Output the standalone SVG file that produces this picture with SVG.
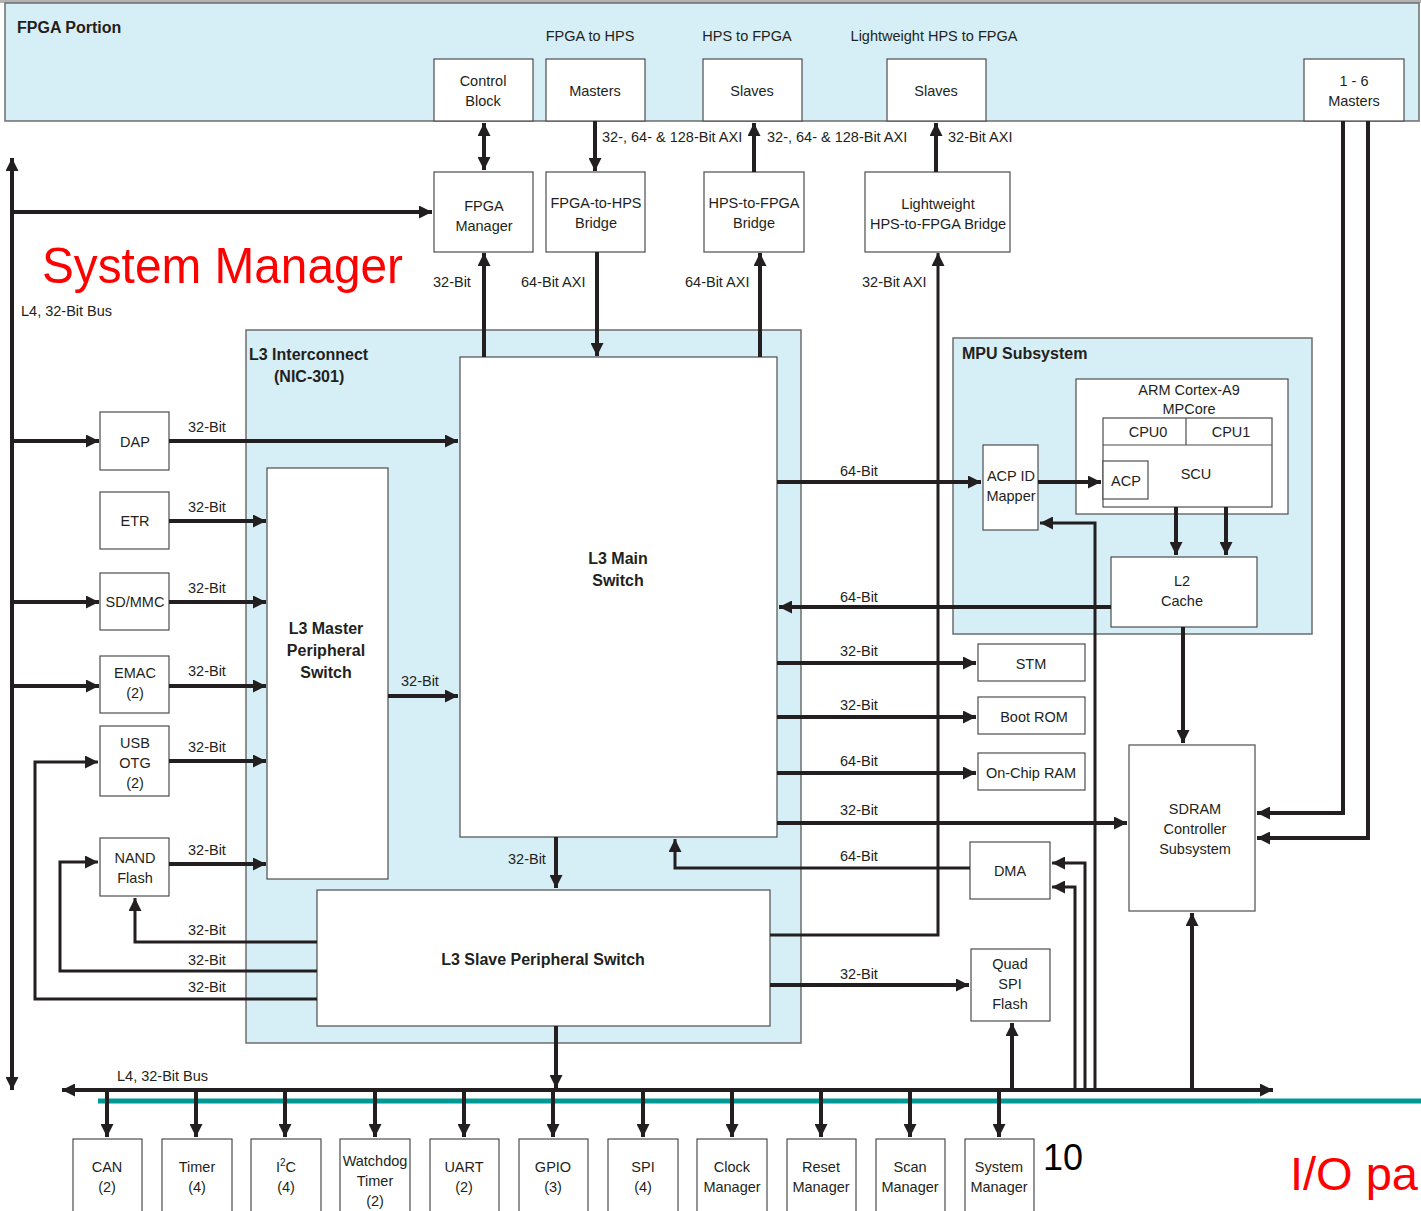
<svg xmlns="http://www.w3.org/2000/svg" width="1421" height="1211" viewBox="0 0 1421 1211">
<style>
text{font-family:"Liberation Sans",Arial,sans-serif;fill:#231f20}
.c{font-size:14.5px;text-anchor:middle}
.l{font-size:14.5px}
.b{font-weight:bold;font-size:16px}
.bc{font-weight:bold;font-size:16px;text-anchor:middle}
.box{fill:#fff;stroke:#4d4d4d;stroke-width:1.2}
.grp{fill:#d6eef5;stroke:#6d6d6d;stroke-width:1.5}
.w{fill:none;stroke:#231f20;stroke-width:4}
.n{fill:none;stroke:#231f20;stroke-width:3}
.a{marker-end:url(#ah)}
.s{marker-start:url(#ah)}
</style>
<defs>
<marker id="ah" viewBox="0 0 10 10" refX="10" refY="5" markerWidth="15" markerHeight="13" markerUnits="userSpaceOnUse" orient="auto-start-reverse"><path d="M0,0 L10,5 L0,10 z" fill="#231f20"/></marker>
</defs>
<rect x="0" y="0" width="1421" height="1211" fill="#fff"/>
<rect x="0" y="0" width="1421" height="3" fill="#b3b3b3"/>

<g id="fpga-portion">
<rect class="grp" x="5" y="3" width="1414" height="118"/>
<text class="b" x="17" y="33" font-size="17">FPGA Portion</text>
<text class="c" x="590" y="41">FPGA to HPS</text>
<text class="c" x="747" y="41">HPS to FPGA</text>
<text class="c" x="934" y="41">Lightweight HPS to FPGA</text>
</g>
<g id="control-block"><rect class="box" x="434" y="59" width="99" height="62"/><text class="c" x="483" y="86">Control</text><text class="c" x="483" y="106">Block</text></g>
<g id="masters"><rect class="box" x="546" y="59" width="99" height="62"/><text class="c" x="595" y="96">Masters</text></g>
<g id="slaves-hps2fpga"><rect class="box" x="703" y="59" width="99" height="62"/><text class="c" x="752" y="96">Slaves</text></g>
<g id="slaves-lw"><rect class="box" x="887" y="59" width="99" height="62"/><text class="c" x="936" y="96">Slaves</text></g>
<g id="masters-1-6"><rect class="box" x="1304" y="59" width="100" height="62"/><text class="c" x="1354" y="86">1 - 6</text><text class="c" x="1354" y="106">Masters</text></g>

<g id="fpga-manager"><rect class="box" x="434" y="172" width="99" height="80"/><text class="c" x="484" y="211">FPGA</text><text class="c" x="484" y="231">Manager</text></g>
<g id="fpga-to-hps-bridge"><rect class="box" x="546" y="172" width="99" height="80"/><text class="c" x="596" y="208">FPGA-to-HPS</text><text class="c" x="596" y="228">Bridge</text></g>
<g id="hps-to-fpga-bridge"><rect class="box" x="704" y="172" width="100" height="80"/><text class="c" x="754" y="208">HPS-to-FPGA</text><text class="c" x="754" y="228">Bridge</text></g>
<g id="lw-bridge"><rect class="box" x="865" y="172" width="145" height="80"/><text class="c" x="938" y="209">Lightweight</text><text class="c" x="938" y="229">HPS-to-FPGA Bridge</text></g>

<text x="42" y="283" font-size="50" style="fill:#ff0000" textLength="361" lengthAdjust="spacingAndGlyphs">System Manager</text>
<text class="l" x="21" y="316">L4, 32-Bit Bus</text>

<g id="l3-interconnect">
<rect class="grp" x="246" y="330" width="555" height="713"/>
<text class="b" x="249" y="360">L3 Interconnect</text>
<text class="b" x="274" y="382">(NIC-301)</text>
</g>
<g id="l3-main-switch"><rect class="box" x="460" y="357" width="317" height="480"/><text class="bc" x="618" y="564">L3 Main</text><text class="bc" x="618" y="586">Switch</text></g>
<g id="l3-master-switch"><rect class="box" x="267" y="468" width="121" height="411"/><text class="bc" x="326" y="634">L3 Master</text><text class="bc" x="326" y="656">Peripheral</text><text class="bc" x="326" y="678">Switch</text></g>
<g id="l3-slave-switch"><rect class="box" x="317" y="890" width="453" height="136"/><text class="bc" x="543" y="965">L3 Slave Peripheral Switch</text></g>

<g id="dap"><rect class="box" x="100" y="412" width="69" height="58"/><text class="c" x="135" y="447">DAP</text></g>
<g id="etr"><rect class="box" x="100" y="492" width="69" height="57"/><text class="c" x="135" y="526">ETR</text></g>
<g id="sdmmc"><rect class="box" x="100" y="573" width="69" height="57"/><text class="c" x="135" y="607">SD/MMC</text></g>
<g id="emac"><rect class="box" x="100" y="656" width="69" height="57"/><text class="c" x="135" y="678">EMAC</text><text class="c" x="135" y="698">(2)</text></g>
<g id="usb-otg"><rect class="box" x="100" y="726" width="69" height="70"/><text class="c" x="135" y="748">USB</text><text class="c" x="135" y="768">OTG</text><text class="c" x="135" y="788">(2)</text></g>
<g id="nand-flash"><rect class="box" x="100" y="838" width="69" height="58"/><text class="c" x="135" y="863">NAND</text><text class="c" x="135" y="883">Flash</text></g>

<g id="mpu-subsystem"><rect class="grp" x="953" y="338" width="359" height="296"/><text class="b" x="962" y="359">MPU Subsystem</text></g>
<g id="arm-cortex"><rect class="box" x="1076" y="379" width="212" height="135"/><text class="c" x="1189" y="395">ARM Cortex-A9</text><text class="c" x="1189" y="414">MPCore</text>
<rect class="box" x="1103" y="418" width="169" height="89"/><line x1="1103" y1="445" x2="1272" y2="445" stroke="#4d4d4d" stroke-width="1.2"/><line x1="1186" y1="418" x2="1186" y2="445" stroke="#4d4d4d" stroke-width="1.2"/>
<text class="c" x="1148" y="437">CPU0</text><text class="c" x="1231" y="437">CPU1</text><text class="c" x="1196" y="479">SCU</text></g>
<g id="acp"><rect class="box" x="1103" y="461" width="45" height="38"/><text class="c" x="1126" y="486">ACP</text></g>
<g id="acp-id-mapper"><rect class="box" x="983" y="445" width="55" height="85"/><text class="c" x="1011" y="481">ACP ID</text><text class="c" x="1011" y="501">Mapper</text></g>
<g id="l2-cache"><rect class="box" x="1111" y="557" width="146" height="70"/><text class="c" x="1182" y="586">L2</text><text class="c" x="1182" y="606">Cache</text></g>

<g id="stm"><rect class="box" x="978" y="644" width="107" height="37"/><text class="c" x="1031" y="669">STM</text></g>
<g id="boot-rom"><rect class="box" x="978" y="697" width="107" height="37"/><text class="c" x="1034" y="722">Boot ROM</text></g>
<g id="on-chip-ram"><rect class="box" x="978" y="753" width="107" height="37"/><text class="c" x="1031" y="778">On-Chip RAM</text></g>
<g id="dma"><rect class="box" x="970" y="842" width="80" height="57"/><text class="c" x="1010" y="876">DMA</text></g>
<g id="quad-spi"><rect class="box" x="971" y="949" width="79" height="72"/><text class="c" x="1010" y="969">Quad</text><text class="c" x="1010" y="989">SPI</text><text class="c" x="1010" y="1009">Flash</text></g>
<g id="sdram"><rect class="box" x="1129" y="745" width="126" height="166"/><text class="c" x="1195" y="814">SDRAM</text><text class="c" x="1195" y="834">Controller</text><text class="c" x="1195" y="854">Subsystem</text></g>

<g id="can"><rect class="box" x="73" y="1139" width="69" height="80"/><text class="c" x="107" y="1172">CAN</text><text class="c" x="107" y="1192">(2)</text></g>
<g id="timer"><rect class="box" x="162" y="1139" width="70" height="80"/><text class="c" x="197" y="1172">Timer</text><text class="c" x="197" y="1192">(4)</text></g>
<g id="i2c"><rect class="box" x="251" y="1139" width="70" height="80"/><text class="c" x="286" y="1172">I<tspan font-size="10" dy="-6">2</tspan><tspan dy="6">C</tspan></text><text class="c" x="286" y="1192">(4)</text></g>
<g id="watchdog"><rect class="box" x="340" y="1139" width="70" height="80"/><text class="c" x="375" y="1166">Watchdog</text><text class="c" x="375" y="1186">Timer</text><text class="c" x="375" y="1206">(2)</text></g>
<g id="uart"><rect class="box" x="430" y="1139" width="69" height="80"/><text class="c" x="464" y="1172">UART</text><text class="c" x="464" y="1192">(2)</text></g>
<g id="gpio"><rect class="box" x="519" y="1139" width="69" height="80"/><text class="c" x="553" y="1172">GPIO</text><text class="c" x="553" y="1192">(3)</text></g>
<g id="spi"><rect class="box" x="608" y="1139" width="70" height="80"/><text class="c" x="643" y="1172">SPI</text><text class="c" x="643" y="1192">(4)</text></g>
<g id="clock-manager"><rect class="box" x="697" y="1139" width="70" height="80"/><text class="c" x="732" y="1172">Clock</text><text class="c" x="732" y="1192">Manager</text></g>
<g id="reset-manager"><rect class="box" x="787" y="1139" width="69" height="80"/><text class="c" x="821" y="1172">Reset</text><text class="c" x="821" y="1192">Manager</text></g>
<g id="scan-manager"><rect class="box" x="876" y="1139" width="69" height="80"/><text class="c" x="910" y="1172">Scan</text><text class="c" x="910" y="1192">Manager</text></g>
<g id="system-manager"><rect class="box" x="965" y="1139" width="69" height="80"/><text class="c" x="999" y="1172">System</text><text class="c" x="999" y="1192">Manager</text></g>

<text x="1043" y="1170" font-size="36" style="fill:#000">10</text>
<text x="1290" y="1190" font-size="47" style="fill:#ff0000">I/O pa</text>

<line x1="98" y1="1101" x2="1421" y2="1101" stroke="#009a96" stroke-width="5"/>

<g id="connectors">
<path class="w a s" d="M484,123 L484,170"/>
<path class="w a" d="M595,121 L595,171"/>
<path class="w a" d="M754,172 L754,123"/>
<path class="w a" d="M936,172 L936,123"/>
<path class="w a" d="M484,357 L484,253"/>
<path class="w a" d="M597,252 L597,356"/>
<path class="w a" d="M760,357 L760,253"/>
<path class="n a" d="M770,935 L938,935 L938,253"/>
<path class="w a s" d="M12,1090 L12,158"/>
<path class="w a" d="M12,212 L432,212"/>
<path class="w a" d="M12,441 L99,441"/>
<path class="w a" d="M169,441 L458,441"/>
<path class="w a" d="M169,521 L266,521"/>
<path class="w a" d="M12,602 L99,602"/>
<path class="w a" d="M169,602 L266,602"/>
<path class="w a" d="M12,686 L99,686"/>
<path class="w a" d="M169,686 L266,686"/>
<path class="w a" d="M169,761 L266,761"/>
<path class="w a" d="M169,864 L266,864"/>
<path class="w a" d="M388,696 L458,696"/>
<path class="n a" d="M317,942 L135,942 L135,898"/>
<path class="n a" d="M317,971 L60,971 L60,862 L98,862"/>
<path class="n a" d="M317,999 L35,999 L35,762 L98,762"/>
<path class="w a" d="M556,837 L556,888"/>
<path class="w a" d="M556,1026 L556,1088"/>
<path class="w a" d="M777,482 L981,482"/>
<path class="w a" d="M1038,482 L1101,482"/>
<path class="w a" d="M1111,607 L779,607"/>
<path class="w a" d="M777,663 L976,663"/>
<path class="w a" d="M777,717 L976,717"/>
<path class="w a" d="M777,773 L976,773"/>
<path class="w a" d="M777,823 L1127,823"/>
<path class="n a" d="M970,868 L675,868 L675,839"/>
<path class="w a" d="M770,985 L969,985"/>
<path class="w a" d="M1176,507 L1176,555"/>
<path class="w a" d="M1226,507 L1226,555"/>
<path class="w a" d="M1183,627 L1183,743"/>
<path class="n a" d="M1095,1090 L1095,523 L1040,523"/>
<path class="n a" d="M1085,1090 L1085,863 L1052,863"/>
<path class="n a" d="M1075,1090 L1075,887 L1052,887"/>
<path class="w a" d="M1012,1090 L1012,1023"/>
<path class="w a" d="M1192,1090 L1192,913"/>
<path class="w a" d="M1343,121 L1343,813 L1257,813"/>
<path class="w a" d="M1368,121 L1368,838 L1257,838"/>
<path class="w a s" d="M62,1090 L1273,1090"/>
<path class="w a" d="M107,1090 L107,1137"/>
<path class="w a" d="M196,1090 L196,1137"/>
<path class="w a" d="M285,1090 L285,1137"/>
<path class="w a" d="M375,1090 L375,1137"/>
<path class="w a" d="M464,1090 L464,1137"/>
<path class="w a" d="M553,1090 L553,1137"/>
<path class="w a" d="M643,1090 L643,1137"/>
<path class="w a" d="M732,1090 L732,1137"/>
<path class="w a" d="M821,1090 L821,1137"/>
<path class="w a" d="M910,1090 L910,1137"/>
<path class="w a" d="M999,1090 L999,1137"/>
</g>

<g id="connector-labels">
<text class="l" x="602" y="142">32-, 64- &amp; 128-Bit AXI</text>
<text class="l" x="767" y="142">32-, 64- &amp; 128-Bit AXI</text>
<text class="l" x="948" y="142">32-Bit AXI</text>
<text class="l" x="433" y="287">32-Bit</text>
<text class="l" x="521" y="287">64-Bit AXI</text>
<text class="l" x="685" y="287">64-Bit AXI</text>
<text class="l" x="862" y="287">32-Bit AXI</text>
<text class="l" x="188" y="432">32-Bit</text>
<text class="l" x="188" y="512">32-Bit</text>
<text class="l" x="188" y="593">32-Bit</text>
<text class="l" x="188" y="676">32-Bit</text>
<text class="l" x="188" y="752">32-Bit</text>
<text class="l" x="188" y="855">32-Bit</text>
<text class="l" x="401" y="686">32-Bit</text>
<text class="l" x="188" y="935">32-Bit</text>
<text class="l" x="188" y="965">32-Bit</text>
<text class="l" x="188" y="992">32-Bit</text>
<text class="l" x="508" y="864">32-Bit</text>
<text class="l" x="840" y="476">64-Bit</text>
<text class="l" x="840" y="602">64-Bit</text>
<text class="l" x="840" y="656">32-Bit</text>
<text class="l" x="840" y="710">32-Bit</text>
<text class="l" x="840" y="766">64-Bit</text>
<text class="l" x="840" y="815">32-Bit</text>
<text class="l" x="840" y="861">64-Bit</text>
<text class="l" x="840" y="979">32-Bit</text>
<text class="l" x="117" y="1081">L4, 32-Bit Bus</text>
</g>
</svg>
